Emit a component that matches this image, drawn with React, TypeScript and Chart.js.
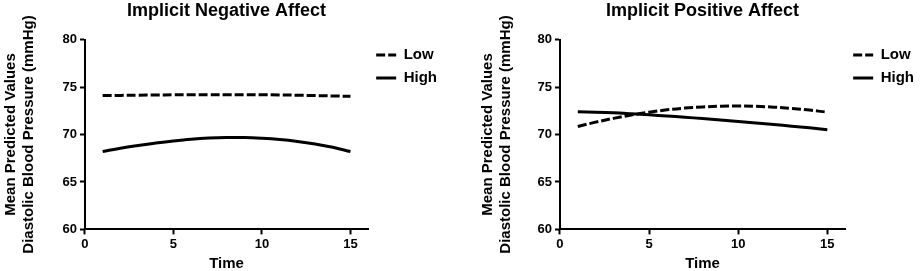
import React, { useEffect, useRef } from "react";
import { Chart, registerables } from "chart.js";

Chart.register(...registerables);

const times = [1, 2, 3, 4, 5, 6, 7, 8, 9, 10, 11, 12, 13, 14, 15];
const xTicks = [0, 5, 10, 15];
const yTicks = [60, 65, 70, 75, 80];

const negLow = [74.1, 74.12, 74.14, 74.16, 74.18, 74.19, 74.2, 74.2, 74.2, 74.19, 74.17, 74.14, 74.1, 74.06, 74.02];
const negHigh = [68.2, 68.55, 68.85, 69.1, 69.32, 69.5, 69.62, 69.68, 69.68, 69.6, 69.47, 69.27, 69.0, 68.65, 68.2];

const posLow = [70.85, 71.3, 71.7, 72.05, 72.35, 72.6, 72.78, 72.9, 72.98, 73.0, 72.97, 72.88, 72.75, 72.57, 72.35];
const posHigh = [72.4, 72.35, 72.28, 72.18, 72.07, 71.95, 71.82, 71.68, 71.53, 71.38, 71.22, 71.05, 70.88, 70.7, 70.5];

const titles = ["Implicit Negative Affect", "Implicit Positive Affect"];
const seriesLabels = ["Low", "High"];
const seriesDash = [[9, 3], []];
const yTitle = ["Mean Predicted Values", "Diastolic Blood Pressure (mmHg)"];
const xTitle = "Time";

const FONT = "'Liberation Sans', Arial, sans-serif";

function makeConfig(title: string, low: number[], high: number[], pad: { left: number; right: number; ytb: number }) {
  const toPts = (arr: number[]) => times.map((t, i) => ({ x: t, y: arr[i] }));
  const series = [low, high];
  return {
    type: "line" as const,
    data: {
      datasets: series.map((s, i) => ({
        label: seriesLabels[i],
        data: toPts(s),
        borderColor: "#000",
        backgroundColor: "#000",
        borderWidth: 3,
        borderDash: seriesDash[i],
        pointRadius: 0,
        tension: 0.4,
        fill: false,
      })),
    },
    options: {
      animation: false as const,
      responsive: false,
      maintainAspectRatio: false,
      layout: { padding: { left: pad.left, right: pad.right, top: 0, bottom: 0 } },
      plugins: {
        title: {
          display: true,
          text: title,
          color: "#000",
          fullSize: false,
          font: { family: FONT, size: 18, weight: "bold" as const, lineHeight: 1.2 },
          padding: { top: 0, bottom: 18 },
        },
        legend: {
          display: true,
          position: "right" as const,
          align: "start" as const,
          fullSize: false,
          labels: {
            usePointStyle: true,
            pointStyle: "line" as const,
            pointStyleWidth: 20,
            boxHeight: 15,
            padding: 8,
            color: "#000",
            font: { family: FONT, size: 15, weight: "bold" as const },
            generateLabels: (chart: any) => {
              const items = Chart.defaults.plugins.legend.labels.generateLabels(chart);
              return items.map((it: any) => {
                const ds = chart.data.datasets[it.datasetIndex];
                return { ...it, lineDash: ds.borderDash, lineWidth: ds.borderWidth, strokeStyle: "#000" };
              });
            },
          },
        },
        tooltip: { enabled: false },
      },
      scales: {
        x: {
          type: "linear" as const,
          min: 0,
          max: 16,
          afterBuildTicks: (axis: any) => {
            axis.ticks = xTicks.map((v) => ({ value: v }));
          },
          border: { display: true, color: "#000", width: 2 },
          grid: { drawOnChartArea: false, drawTicks: true, tickLength: 5, tickColor: "#000", tickWidth: 2, color: "#000" },
          ticks: { color: "#000", padding: 2, font: { family: FONT, size: 13, weight: "bold" as const } },
          title: {
            display: true,
            text: xTitle,
            color: "#000",
            font: { family: FONT, size: 15, weight: "bold" as const, lineHeight: 1.0 },
            padding: { top: 2, bottom: 0 },
          },
        },
        y: {
          type: "linear" as const,
          min: 60,
          max: 80,
          afterBuildTicks: (axis: any) => {
            axis.ticks = yTicks.map((v) => ({ value: v }));
          },
          border: { display: true, color: "#000", width: 2 },
          grid: { drawOnChartArea: false, drawTicks: true, tickLength: 5, tickColor: "#000", tickWidth: 2, color: "#000" },
          ticks: { color: "#000", padding: 3, font: { family: FONT, size: 13, weight: "bold" as const } },
          title: {
            display: true,
            text: yTitle,
            color: "#000",
            font: { family: FONT, size: 15, weight: "bold" as const, lineHeight: 1.25 },
            padding: { top: 1, bottom: pad.ytb },
          },
        },
      },
    },
  };
}

function Panel({ left, width, title, low, high, pad }: any) {
  const ref = useRef<HTMLCanvasElement>(null);
  useEffect(() => {
    if (!ref.current) return;
    const chart = new Chart(ref.current, makeConfig(title, low, high, pad) as any);
    return () => chart.destroy();
  }, []);
  return (
    <div style={{ position: "absolute", left, top: 0, width, height: 271 }}>
      <canvas ref={ref} width={width} height={271} style={{ width, height: 271, display: "block" }} />
    </div>
  );
}

export default function App() {
  useEffect(() => {
    document.body.style.margin = "0";
    document.body.style.background = "#fff";
  }, []);
  return (
    <div style={{ position: "relative", width: 921, height: 271, background: "#fff", overflow: "hidden" }}>
      <Panel left={0} width={460} title={titles[0]} low={negLow} high={negHigh} pad={{ left: 0, right: 13, ytb: 21 }} />
      <Panel left={460} width={461} title={titles[1]} low={posLow} high={posHigh} pad={{ left: 17, right: -3, ytb: 19 }} />
    </div>
  );
}
